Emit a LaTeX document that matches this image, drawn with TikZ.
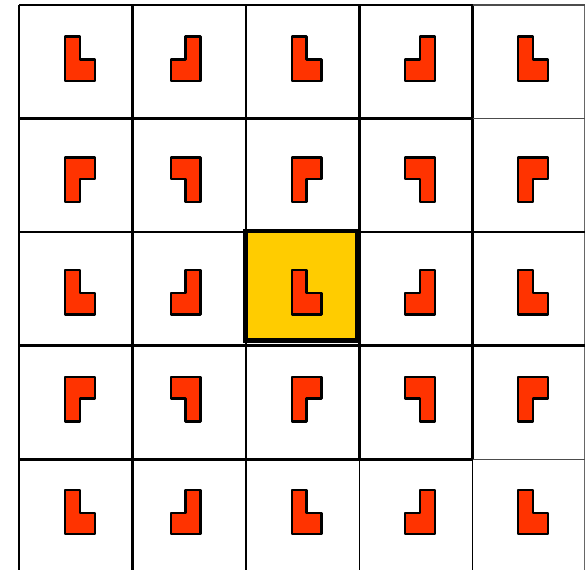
\documentclass[tikz,border=0pt]{standalone}
\usepackage{xcolor}
\usepackage{tikz}

\definecolor{tileRed}{RGB}{255,51,0}
\definecolor{cellYellow}{RGB}{255,204,0}

\begin{document}
\begin{tikzpicture}[
    x=1pt, y=-1pt,
    grid/.style={draw, line width=2.6pt},
    gridthin/.style={draw, line width=1.4pt},
    centre/.style={fill=cellYellow, draw=black, line width=4.5pt},
    tile/.style={fill=tileRed, draw=black, line width=2.4pt, line join=round}
]
    \useasboundingbox (0,0) rectangle (586,570);

    % Vertical grid lines
    \foreach \gx in {19,132.5,246}
        \draw[grid] (\gx,5) -- (\gx,570);
    \foreach \gx in {359.5,472.5} {
        \draw[grid] (\gx,5) -- (\gx,459.5);
        \draw[gridthin] (\gx,459.5) -- (\gx,570);
    }
    \draw[gridthin, draw=black!60] (584.5,5) -- (584.5,570);

    % Horizontal grid lines
    \foreach \gy in {5,118.3,232,345.5,459.5}
        \draw[grid] (19,\gy) -- (472.5,\gy);
    \foreach \gy in {5,118.3,459.5}
        \draw[gridthin, draw=black!70] (472.5,\gy) -- (584.5,\gy);
    \foreach \gy in {232,345.5}
        \draw[grid] (472.5,\gy) -- (584.5,\gy);

    % Centre cell
    \draw[centre] (245.5,231) rectangle (357.5,340.5);

    % L tiles, mirrored across the grid lines
    \foreach \cx/\sx in {80/1,185.5/-1,306.5/1,420/-1,533/1}
        \foreach \cy/\sy in {58.6/1,179.8/-1,292.4/1,399.2/-1,512/1}
            \draw[tile, shift={(\cx,\cy)}, xscale=\sx, yscale=\sy]
                (-14.8,-22.2) -- (0,-22.2) -- (0,0.8) -- (14.8,0.8) -- (14.8,22.2) -- (-14.8,22.2) -- cycle;
\end{tikzpicture}
\end{document}
